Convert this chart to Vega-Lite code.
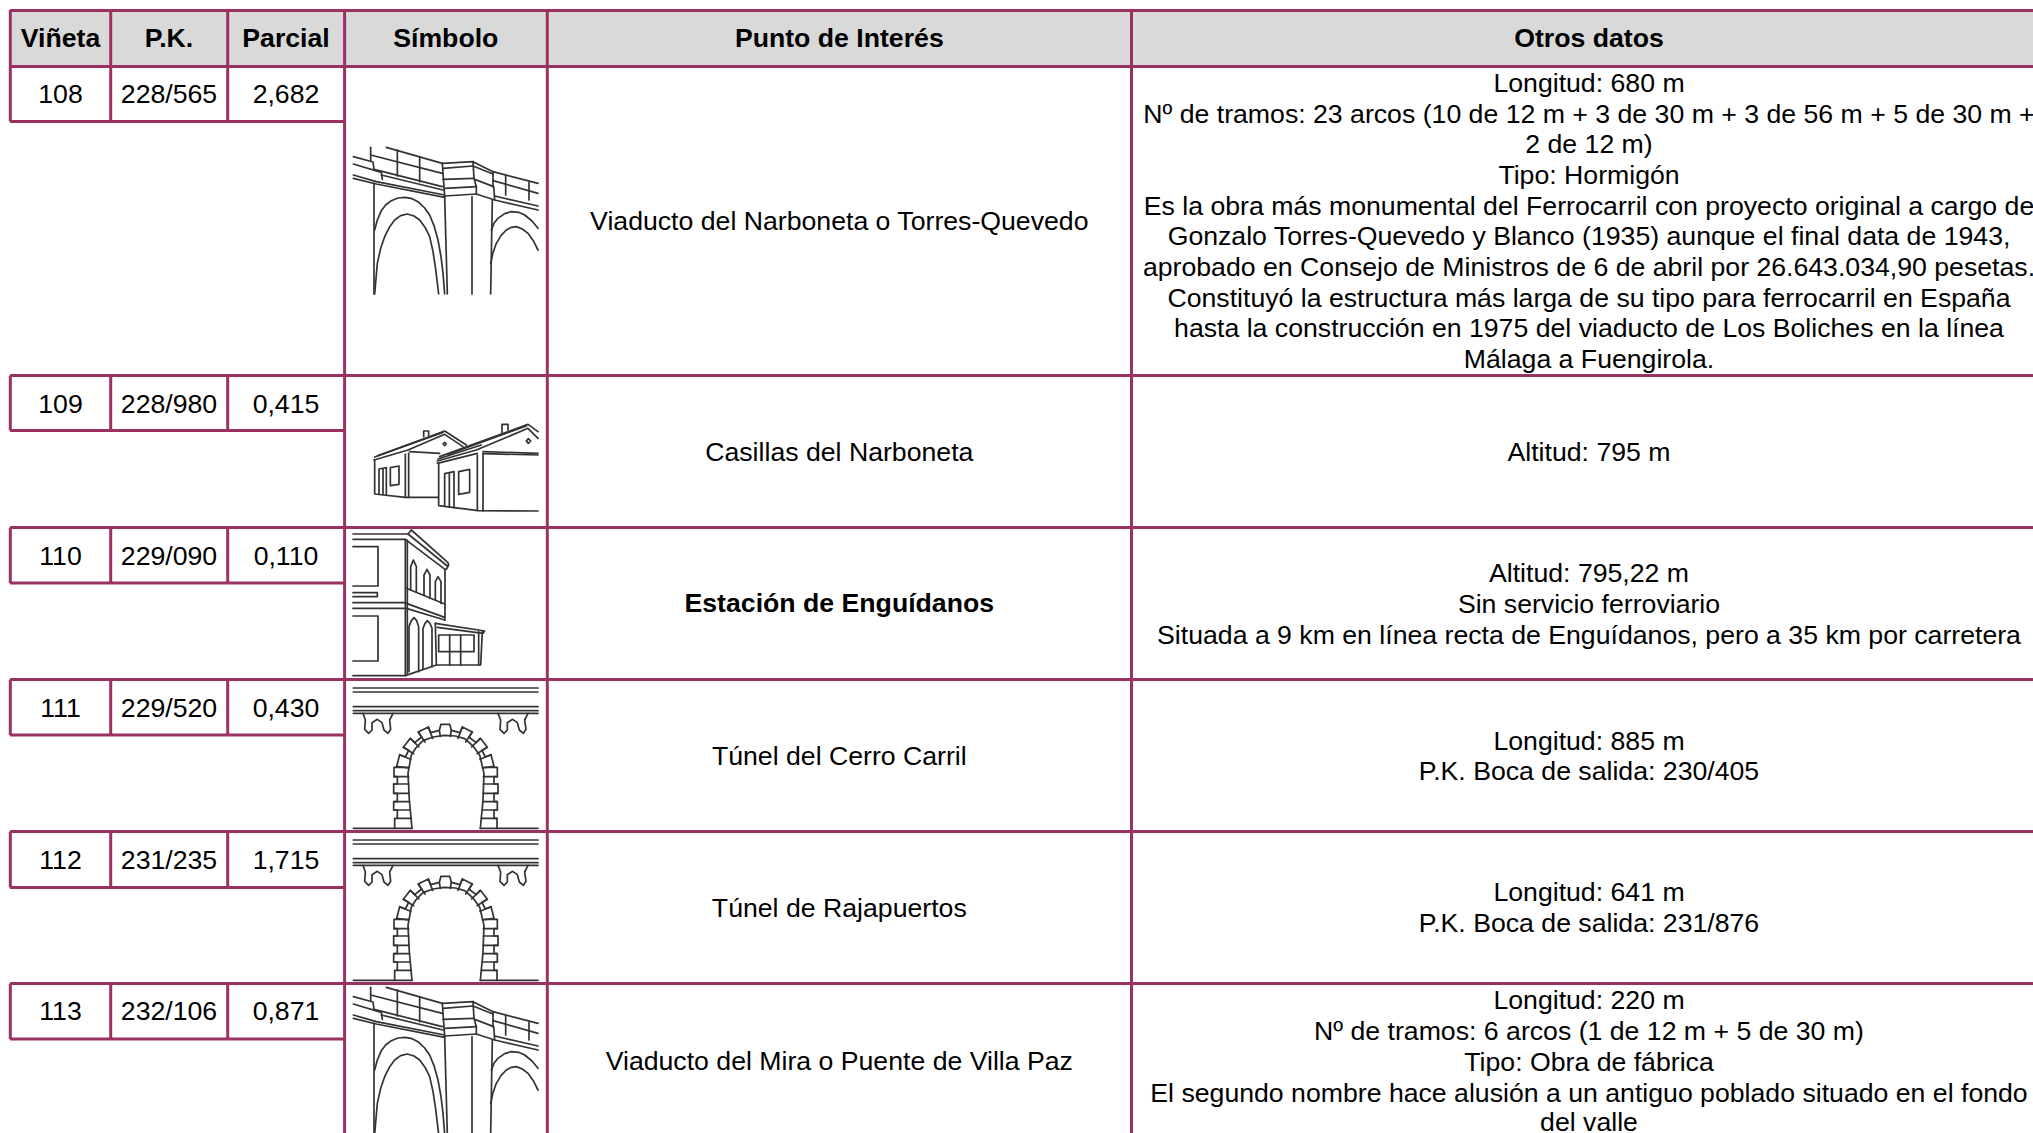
{
"$schema":"https://vega.github.io/schema/vega-lite/v6.json",
"width":2033,"height":1133,"padding":0,"autosize":{"type":"fit","contains":"padding"},
"background":"white","config":{"view":{"stroke":null}},
"resolve":{"scale":{"x":"independent","y":"independent"}},
"datasets":{
"header":[{"x":10,"x2":2033,"y":10,"y2":66}],
"grid":[
{"x":10,"x2":2033,"y":10.5,"y2":10.5},{"x":10,"x2":2033,"y":66.5,"y2":66.5},{"x":10,"x2":2033,"y":375.5,"y2":375.5},{"x":10,"x2":2033,"y":527.5,"y2":527.5},{"x":10,"x2":2033,"y":679.5,"y2":679.5},{"x":10,"x2":2033,"y":831.5,"y2":831.5},{"x":10,"x2":2033,"y":983.5,"y2":983.5},
{"x":10,"x2":344.6,"y":121.5,"y2":121.5},{"x":10,"x2":344.6,"y":430.5,"y2":430.5},{"x":10,"x2":344.6,"y":583,"y2":583},{"x":10,"x2":344.6,"y":735,"y2":735},{"x":10,"x2":344.6,"y":887.5,"y2":887.5},{"x":10,"x2":344.6,"y":1039,"y2":1039},
{"x":344.6,"x2":344.6,"y":10,"y2":1133},{"x":547.3,"x2":547.3,"y":10,"y2":1133},{"x":1131.5,"x2":1131.5,"y":10,"y2":1133},
{"x":10.3,"x2":10.3,"y":10,"y2":121.5},{"x":110.7,"x2":110.7,"y":10,"y2":121.5},{"x":227.7,"x2":227.7,"y":10,"y2":121.5},
{"x":10.3,"x2":10.3,"y":375.5,"y2":430.5},{"x":110.7,"x2":110.7,"y":375.5,"y2":430.5},{"x":227.7,"x2":227.7,"y":375.5,"y2":430.5},
{"x":10.3,"x2":10.3,"y":527.5,"y2":583},{"x":110.7,"x2":110.7,"y":527.5,"y2":583},{"x":227.7,"x2":227.7,"y":527.5,"y2":583},
{"x":10.3,"x2":10.3,"y":679.5,"y2":735},{"x":110.7,"x2":110.7,"y":679.5,"y2":735},{"x":227.7,"x2":227.7,"y":679.5,"y2":735},
{"x":10.3,"x2":10.3,"y":831.5,"y2":887.5},{"x":110.7,"x2":110.7,"y":831.5,"y2":887.5},{"x":227.7,"x2":227.7,"y":831.5,"y2":887.5},
{"x":10.3,"x2":10.3,"y":983.5,"y2":1039},{"x":110.7,"x2":110.7,"y":983.5,"y2":1039},{"x":227.7,"x2":227.7,"y":983.5,"y2":1039}
],
"bold":[
{"x":60.5,"y":38,"t":"Viñeta"},{"x":169,"y":38,"t":"P.K."},{"x":286,"y":38,"t":"Parcial"},{"x":445.8,"y":38,"t":"Símbolo"},{"x":839.3,"y":38,"t":"Punto de Interés"},{"x":1589,"y":38,"t":"Otros datos"},{"x":839.3,"y":603,"t":"Estación de Enguídanos"}
],
"plain":[
{"x":60.5,"y":94,"t":"108"},{"x":169,"y":94,"t":"228/565"},{"x":286,"y":94,"t":"2,682"},
{"x":60.5,"y":403.5,"t":"109"},{"x":169,"y":403.5,"t":"228/980"},{"x":286,"y":403.5,"t":"0,415"},
{"x":60.5,"y":555.5,"t":"110"},{"x":169,"y":555.5,"t":"229/090"},{"x":286,"y":555.5,"t":"0,110"},
{"x":60.5,"y":707.5,"t":"111"},{"x":169,"y":707.5,"t":"229/520"},{"x":286,"y":707.5,"t":"0,430"},
{"x":60.5,"y":859.5,"t":"112"},{"x":169,"y":859.5,"t":"231/235"},{"x":286,"y":859.5,"t":"1,715"},
{"x":60.5,"y":1011,"t":"113"},{"x":169,"y":1011,"t":"232/106"},{"x":286,"y":1011,"t":"0,871"},
{"x":839.3,"y":221,"t":"Viaducto del Narboneta o Torres-Quevedo"},
{"x":839.3,"y":451.5,"t":"Casillas del Narboneta"},
{"x":839.3,"y":755.5,"t":"Túnel del Cerro Carril"},
{"x":839.3,"y":907.5,"t":"Túnel de Rajapuertos"},
{"x":839.3,"y":1061,"t":"Viaducto del Mira o Puente de Villa Paz"},
{"x":1589,"y":83,"t":"Longitud: 680 m"},
{"x":1589,"y":113.7,"t":"Nº de tramos: 23 arcos (10 de 12 m + 3 de 30 m + 3 de 56 m + 5 de 30 m +"},
{"x":1589,"y":144.3,"t":"2 de 12 m)"},
{"x":1589,"y":175,"t":"Tipo: Hormigón"},
{"x":1589,"y":205.7,"t":"Es la obra más monumental del Ferrocarril con proyecto original a cargo de"},
{"x":1589,"y":236.4,"t":"Gonzalo Torres-Quevedo y Blanco (1935) aunque el final data de 1943,"},
{"x":1589,"y":267,"t":"aprobado en Consejo de Ministros de 6 de abril por 26.643.034,90 pesetas."},
{"x":1589,"y":297.7,"t":"Constituyó la estructura más larga de su tipo para ferrocarril en España"},
{"x":1589,"y":328.4,"t":"hasta la construcción en 1975 del viaducto de Los Boliches en la línea"},
{"x":1589,"y":359,"t":"Málaga a Fuengirola."},
{"x":1589,"y":451.5,"t":"Altitud: 795 m"},
{"x":1589,"y":573,"t":"Altitud: 795,22 m"},
{"x":1589,"y":603.8,"t":"Sin servicio ferroviario"},
{"x":1589,"y":634.6,"t":"Situada a 9 km en línea recta de Enguídanos, pero a 35 km por carretera"},
{"x":1589,"y":741,"t":"Longitud: 885 m"},
{"x":1589,"y":771,"t":"P.K. Boca de salida: 230/405"},
{"x":1589,"y":892.2,"t":"Longitud: 641 m"},
{"x":1589,"y":923,"t":"P.K. Boca de salida: 231/876"},
{"x":1589,"y":1000.4,"t":"Longitud: 220 m"},
{"x":1589,"y":1031,"t":"Nº de tramos: 6 arcos (1 de 12 m + 5 de 30 m)"},
{"x":1589,"y":1062,"t":"Tipo: Obra de fábrica"},
{"x":1589,"y":1092.7,"t":"El segundo nombre hace alusión a un antiguo poblado situado en el fondo"},
{"x":1589,"y":1121.5,"t":"del valle"}
],
"viaduct":[
{"p":1,"x":115,"y":22},{"p":1,"x":283,"y":70},
{"p":2,"x":68,"y":45},{"p":2,"x":283,"y":100},
{"p":3,"x":68,"y":22},{"p":3,"x":68,"y":62},
{"p":4,"x":148,"y":30},{"p":4,"x":148,"y":108},
{"p":5,"x":215,"y":50},{"p":5,"x":215,"y":125},
{"p":6,"x":16,"y":50},{"p":6,"x":75,"y":66},{"p":6,"x":78,"y":88},{"p":6,"x":283,"y":140},
{"p":7,"x":16,"y":72},{"p":7,"x":100,"y":97},{"p":7,"x":103,"y":118},
{"p":8,"x":16,"y":105},{"p":8,"x":85,"y":125},{"p":8,"x":290,"y":165},
{"p":9,"x":16,"y":115},{"p":9,"x":85,"y":132},{"p":9,"x":290,"y":172},
{"p":10,"x":100,"y":105},{"p":10,"x":285,"y":150},
{"p":11,"x":283,"y":70},{"p":11,"x":290,"y":170},
{"p":12,"x":283,"y":70},{"p":12,"x":375,"y":65},{"p":12,"x":378,"y":115},{"p":12,"x":385,"y":140},{"p":12,"x":385,"y":162},
{"p":13,"x":285,"y":85},{"p":13,"x":375,"y":78},
{"p":14,"x":285,"y":118},{"p":14,"x":378,"y":115},
{"p":15,"x":290,"y":145},{"p":15,"x":385,"y":140},
{"p":16,"x":290,"y":168},{"p":16,"x":385,"y":162},
{"p":17,"x":375,"y":65},{"p":17,"x":435,"y":95},{"p":17,"x":570,"y":130},
{"p":18,"x":375,"y":78},{"p":18,"x":435,"y":102},
{"p":19,"x":435,"y":122},{"p":19,"x":570,"y":160},
{"p":20,"x":380,"y":118},{"p":20,"x":437,"y":140},{"p":20,"x":440,"y":178},
{"p":21,"x":385,"y":162},{"p":21,"x":440,"y":180},{"p":21,"x":570,"y":210},
{"p":22,"x":440,"y":168},{"p":22,"x":570,"y":198},
{"p":23,"x":435,"y":97},{"p":23,"x":435,"y":140},
{"p":24,"x":473,"y":105},{"p":24,"x":473,"y":165},
{"p":25,"x":543,"y":125},{"p":25,"x":543,"y":180},
{"p":26,"x":78,"y":130},{"p":26,"x":78,"y":462},
{"p":27,"x":290,"y":170},{"p":27,"x":298,"y":462},
{"p":28,"x":372,"y":170},{"p":28,"x":372,"y":462},
{"p":29,"x":433,"y":180},{"p":29,"x":428,"y":462},
{"p":30,"x":80,"y":270},{"p":30,"x":88,"y":240},{"p":30,"x":100,"y":212},{"p":30,"x":113,"y":195},{"p":30,"x":130,"y":182},{"p":30,"x":150,"y":174},{"p":30,"x":172,"y":172},{"p":30,"x":192,"y":176},{"p":30,"x":210,"y":185},{"p":30,"x":230,"y":204},{"p":30,"x":245,"y":225},{"p":30,"x":259,"y":260},{"p":30,"x":270,"y":300},{"p":30,"x":279,"y":350},{"p":30,"x":285,"y":400},{"p":30,"x":290,"y":462},
{"p":31,"x":80,"y":462},{"p":31,"x":88,"y":370},{"p":31,"x":98,"y":325},{"p":31,"x":110,"y":290},{"p":31,"x":124,"y":262},{"p":31,"x":140,"y":240},{"p":31,"x":158,"y":227},{"p":31,"x":178,"y":222},{"p":31,"x":198,"y":228},{"p":31,"x":215,"y":240},{"p":31,"x":232,"y":263},{"p":31,"x":245,"y":290},{"p":31,"x":255,"y":335},{"p":31,"x":262,"y":380},{"p":31,"x":272,"y":462},
{"p":32,"x":430,"y":270},{"p":32,"x":438,"y":250},{"p":32,"x":450,"y":235},{"p":32,"x":470,"y":221},{"p":32,"x":490,"y":215},{"p":32,"x":512,"y":217},{"p":32,"x":530,"y":225},{"p":32,"x":552,"y":243},{"p":32,"x":570,"y":265},
{"p":33,"x":428,"y":370},{"p":33,"x":435,"y":338},{"p":33,"x":445,"y":310},{"p":33,"x":459,"y":287},{"p":33,"x":475,"y":270},{"p":33,"x":490,"y":262},{"p":33,"x":505,"y":260},{"p":33,"x":523,"y":267},{"p":33,"x":540,"y":280},{"p":33,"x":557,"y":304},{"p":33,"x":570,"y":330}
],
"tunnel":[
{"p":1,"x":16,"y":24},{"p":1,"x":570,"y":24},
{"p":2,"x":16,"y":36},{"p":2,"x":570,"y":36},
{"p":3,"x":16,"y":80},{"p":3,"x":570,"y":80},
{"p":4,"x":16,"y":92},{"p":4,"x":570,"y":92},
{"p":5,"x":16,"y":100},{"p":5,"x":570,"y":100},
{"p":6,"x":45,"y":100},{"p":6,"x":52,"y":120},{"p":6,"x":50,"y":148},{"p":6,"x":62,"y":160},{"p":6,"x":72,"y":150},{"p":6,"x":72,"y":128},{"p":6,"x":88,"y":118},{"p":6,"x":102,"y":128},{"p":6,"x":108,"y":150},{"p":6,"x":120,"y":160},{"p":6,"x":128,"y":148},{"p":6,"x":125,"y":120},{"p":6,"x":135,"y":100},
{"p":7,"x":450,"y":100},{"p":7,"x":458,"y":120},{"p":7,"x":456,"y":148},{"p":7,"x":468,"y":160},{"p":7,"x":478,"y":150},{"p":7,"x":478,"y":128},{"p":7,"x":494,"y":118},{"p":7,"x":508,"y":128},{"p":7,"x":514,"y":150},{"p":7,"x":526,"y":160},{"p":7,"x":534,"y":148},{"p":7,"x":530,"y":120},{"p":7,"x":540,"y":100},
{"p":8,"x":192,"y":445},{"p":8,"x":184,"y":360},{"p":8,"x":180,"y":280},{"p":8,"x":190,"y":225},{"p":8,"x":205,"y":202},{"p":8,"x":225,"y":182},{"p":8,"x":255,"y":171},{"p":8,"x":290,"y":166},{"p":8,"x":322,"y":168},{"p":8,"x":350,"y":176},{"p":8,"x":375,"y":198},{"p":8,"x":395,"y":225},{"p":8,"x":408,"y":280},{"p":8,"x":405,"y":360},{"p":8,"x":397,"y":445},
{"p":9,"x":146,"y":259},{"p":9,"x":155,"y":224},{"p":9,"x":172,"y":231},{"p":9,"x":182,"y":211},{"p":9,"x":166,"y":202},{"p":9,"x":187,"y":175},{"p":9,"x":200,"y":188},{"p":9,"x":221,"y":171},{"p":9,"x":211,"y":156},{"p":9,"x":241,"y":141},{"p":9,"x":248,"y":158},{"p":9,"x":274,"y":151},{"p":9,"x":279,"y":133},{"p":9,"x":305,"y":133},{"p":9,"x":310,"y":151},{"p":9,"x":336,"y":158},{"p":9,"x":343,"y":141},{"p":9,"x":373,"y":156},{"p":9,"x":363,"y":171},{"p":9,"x":384,"y":188},{"p":9,"x":397,"y":175},{"p":9,"x":418,"y":202},{"p":9,"x":402,"y":211},{"p":9,"x":412,"y":231},{"p":9,"x":429,"y":224},{"p":9,"x":438,"y":259},
{"p":10,"x":277,"y":169},{"p":10,"x":274,"y":151},
{"p":11,"x":254,"y":175},{"p":11,"x":241,"y":141},
{"p":12,"x":231,"y":186},{"p":12,"x":211,"y":156},
{"p":13,"x":213,"y":201},{"p":13,"x":187,"y":175},
{"p":14,"x":197,"y":221},{"p":14,"x":166,"y":202},
{"p":15,"x":188,"y":238},{"p":15,"x":155,"y":224},
{"p":16,"x":181,"y":264},{"p":16,"x":146,"y":259},
{"p":17,"x":307,"y":169},{"p":17,"x":310,"y":151},
{"p":18,"x":330,"y":175},{"p":18,"x":343,"y":141},
{"p":19,"x":353,"y":186},{"p":19,"x":373,"y":156},
{"p":20,"x":371,"y":201},{"p":20,"x":397,"y":175},
{"p":21,"x":387,"y":221},{"p":21,"x":418,"y":202},
{"p":22,"x":396,"y":238},{"p":22,"x":429,"y":224},
{"p":23,"x":403,"y":264},{"p":23,"x":438,"y":259},
{"p":24,"x":180,"y":262},{"p":24,"x":138,"y":262},{"p":24,"x":138,"y":290},{"p":24,"x":148,"y":290},{"p":24,"x":148,"y":312},{"p":24,"x":137,"y":312},{"p":24,"x":137,"y":340},{"p":24,"x":148,"y":340},{"p":24,"x":148,"y":365},{"p":24,"x":137,"y":365},{"p":24,"x":137,"y":390},{"p":24,"x":148,"y":390},{"p":24,"x":148,"y":415},{"p":24,"x":140,"y":415},{"p":24,"x":140,"y":445},{"p":24,"x":192,"y":445},
{"p":25,"x":138,"y":290},{"p":25,"x":182,"y":290},
{"p":26,"x":137,"y":312},{"p":26,"x":182,"y":312},
{"p":27,"x":137,"y":340},{"p":27,"x":183,"y":340},
{"p":28,"x":137,"y":365},{"p":28,"x":184,"y":365},
{"p":29,"x":137,"y":390},{"p":29,"x":186,"y":390},
{"p":30,"x":148,"y":415},{"p":30,"x":190,"y":415},
{"p":31,"x":408,"y":262},{"p":31,"x":448,"y":262},{"p":31,"x":448,"y":290},{"p":31,"x":438,"y":290},{"p":31,"x":438,"y":312},{"p":31,"x":450,"y":312},{"p":31,"x":450,"y":340},{"p":31,"x":438,"y":340},{"p":31,"x":438,"y":365},{"p":31,"x":448,"y":365},{"p":31,"x":448,"y":390},{"p":31,"x":438,"y":390},{"p":31,"x":438,"y":415},{"p":31,"x":447,"y":415},{"p":31,"x":447,"y":445},{"p":31,"x":397,"y":445},
{"p":32,"x":406,"y":290},{"p":32,"x":448,"y":290},
{"p":33,"x":406,"y":312},{"p":33,"x":450,"y":312},
{"p":34,"x":405,"y":340},{"p":34,"x":450,"y":340},
{"p":35,"x":405,"y":365},{"p":35,"x":448,"y":365},
{"p":36,"x":403,"y":390},{"p":36,"x":448,"y":390},
{"p":37,"x":400,"y":415},{"p":37,"x":447,"y":415},
{"p":38,"x":16,"y":445},{"p":38,"x":140,"y":445},
{"p":39,"x":447,"y":445},{"p":39,"x":570,"y":445}
],
"houses":[
{"p":1,"x":80,"y":186},{"p":1,"x":290,"y":108},{"p":1,"x":355,"y":150},
{"p":2,"x":78,"y":195},{"p":2,"x":180,"y":165},{"p":2,"x":290,"y":118},{"p":2,"x":345,"y":155},
{"p":3,"x":90,"y":182},{"p":3,"x":285,"y":112},
{"p":4,"x":185,"y":170},{"p":4,"x":275,"y":175},
{"p":5,"x":227,"y":125},{"p":5,"x":227,"y":108},{"p":5,"x":242,"y":108},{"p":5,"x":242,"y":122},
{"p":6,"x":285,"y":147},{"p":6,"x":290,"y":142},{"p":6,"x":295,"y":147},{"p":6,"x":290,"y":152},{"p":6,"x":285,"y":147},
{"p":7,"x":80,"y":195},{"p":7,"x":80,"y":297},{"p":7,"x":172,"y":307},{"p":7,"x":270,"y":307},
{"p":8,"x":172,"y":178},{"p":8,"x":172,"y":307},
{"p":9,"x":182,"y":175},{"p":9,"x":182,"y":307},
{"p":10,"x":93,"y":297},{"p":10,"x":93,"y":222},{"p":10,"x":115,"y":218},{"p":10,"x":115,"y":300},
{"p":11,"x":105,"y":222},{"p":11,"x":105,"y":298},
{"p":12,"x":127,"y":218},{"p":12,"x":153,"y":213},{"p":12,"x":153,"y":268},{"p":12,"x":127,"y":272},{"p":12,"x":127,"y":218},
{"p":13,"x":275,"y":185},{"p":13,"x":540,"y":88},{"p":13,"x":570,"y":110},
{"p":14,"x":268,"y":198},{"p":14,"x":385,"y":165},{"p":14,"x":540,"y":100},{"p":14,"x":570,"y":130},
{"p":15,"x":270,"y":192},{"p":15,"x":400,"y":150},
{"p":16,"x":268,"y":205},{"p":16,"x":388,"y":175},
{"p":17,"x":300,"y":178},{"p":17,"x":535,"y":93},
{"p":18,"x":272,"y":205},{"p":18,"x":272,"y":332},{"p":18,"x":390,"y":347},{"p":18,"x":570,"y":348},
{"p":19,"x":388,"y":180},{"p":19,"x":388,"y":345},
{"p":20,"x":405,"y":175},{"p":20,"x":405,"y":348},
{"p":21,"x":290,"y":332},{"p":21,"x":290,"y":236},{"p":21,"x":318,"y":230},{"p":21,"x":318,"y":338},
{"p":22,"x":304,"y":236},{"p":22,"x":304,"y":335},
{"p":23,"x":332,"y":230},{"p":23,"x":365,"y":223},{"p":23,"x":365,"y":292},{"p":23,"x":332,"y":298},{"p":23,"x":332,"y":230},
{"p":24,"x":462,"y":112},{"p":24,"x":462,"y":88},{"p":24,"x":480,"y":88},{"p":24,"x":480,"y":105},
{"p":25,"x":535,"y":138},{"p":25,"x":541,"y":131},{"p":25,"x":548,"y":138},{"p":25,"x":541,"y":145},{"p":25,"x":535,"y":138},
{"p":26,"x":405,"y":170},{"p":26,"x":570,"y":175},
{"p":27,"x":405,"y":176},{"p":27,"x":570,"y":180}
],
"station":[
{"p":1,"x":15,"y":12},{"p":1,"x":180,"y":12},{"p":1,"x":190,"y":0},{"p":1,"x":300,"y":98},{"p":1,"x":302,"y":105},{"p":1,"x":295,"y":118},
{"p":2,"x":15,"y":28},{"p":2,"x":172,"y":28},{"p":2,"x":291,"y":118},
{"p":3,"x":180,"y":12},{"p":3,"x":298,"y":108},
{"p":4,"x":172,"y":28},{"p":4,"x":172,"y":437},
{"p":5,"x":178,"y":30},{"p":5,"x":178,"y":430},
{"p":6,"x":291,"y":118},{"p":6,"x":291,"y":270},
{"p":7,"x":15,"y":50},{"p":7,"x":90,"y":50},{"p":7,"x":90,"y":168},{"p":7,"x":15,"y":168},
{"p":8,"x":15,"y":188},{"p":8,"x":88,"y":188},{"p":8,"x":88,"y":200},{"p":8,"x":15,"y":200},
{"p":9,"x":15,"y":258},{"p":9,"x":90,"y":258},{"p":9,"x":90,"y":393},{"p":9,"x":15,"y":393},
{"p":10,"x":15,"y":218},{"p":10,"x":170,"y":218},
{"p":11,"x":15,"y":235},{"p":11,"x":170,"y":235},
{"p":12,"x":15,"y":437},{"p":12,"x":172,"y":437},{"p":12,"x":265,"y":405},
{"p":13,"x":188,"y":180},{"p":13,"x":188,"y":110},{"p":13,"x":196,"y":90},{"p":13,"x":205,"y":110},{"p":13,"x":205,"y":185},
{"p":14,"x":228,"y":195},{"p":14,"x":228,"y":135},{"p":14,"x":237,"y":118},{"p":14,"x":246,"y":135},{"p":14,"x":246,"y":205},
{"p":15,"x":262,"y":210},{"p":15,"x":262,"y":155},{"p":15,"x":270,"y":140},{"p":15,"x":279,"y":155},{"p":15,"x":279,"y":220},
{"p":16,"x":175,"y":175},{"p":16,"x":290,"y":222},
{"p":17,"x":175,"y":220},{"p":17,"x":290,"y":262},
{"p":18,"x":175,"y":235},{"p":18,"x":290,"y":270},
{"p":19,"x":183,"y":425},{"p":19,"x":183,"y":290},{"p":19,"x":190,"y":272},{"p":19,"x":198,"y":263},{"p":19,"x":206,"y":272},{"p":19,"x":212,"y":290},{"p":19,"x":212,"y":425},
{"p":20,"x":225,"y":415},{"p":20,"x":225,"y":295},{"p":20,"x":231,"y":280},{"p":20,"x":238,"y":272},{"p":20,"x":246,"y":280},{"p":20,"x":252,"y":295},{"p":20,"x":252,"y":410},
{"p":21,"x":262,"y":280},{"p":21,"x":410,"y":303},{"p":21,"x":405,"y":310},{"p":21,"x":268,"y":292},
{"p":22,"x":262,"y":280},{"p":22,"x":265,"y":405},{"p":22,"x":392,"y":405},{"p":22,"x":392,"y":305},
{"p":23,"x":403,"y":305},{"p":23,"x":398,"y":405},{"p":23,"x":392,"y":405},
{"p":24,"x":272,"y":315},{"p":24,"x":378,"y":315},{"p":24,"x":378,"y":365},{"p":24,"x":272,"y":365},{"p":24,"x":272,"y":315},
{"p":25,"x":305,"y":315},{"p":25,"x":305,"y":405},
{"p":26,"x":338,"y":315},{"p":26,"x":338,"y":405}
]
},
"layer":[
{"data":{"name":"header"},"mark":{"type":"rect","fill":"#d9d9d9","clip":true},
 "encoding":{"x":{"field":"x","type":"quantitative","axis":null,"scale":{"domain":[0,2033],"nice":false,"zero":false}},"x2":{"field":"x2"},"y":{"field":"y","type":"quantitative","axis":null,"scale":{"domain":[1133,0],"nice":false,"zero":false}},"y2":{"field":"y2"}}},
{"data":{"name":"plain"},"mark":{"type":"text","clip":true,"font":"Liberation Sans","fontSize":26.67,"color":"#000000","align":"center","baseline":"middle"},
 "encoding":{"x":{"field":"x","type":"quantitative","axis":null,"scale":{"domain":[0,2033],"nice":false,"zero":false}},"y":{"field":"y","type":"quantitative","axis":null,"scale":{"domain":[1132,-1],"nice":false,"zero":false}},"text":{"field":"t","type":"nominal"}}},
{"data":{"name":"bold"},"mark":{"type":"text","clip":true,"font":"Liberation Sans","fontSize":26.67,"fontWeight":"bold","color":"#000000","align":"center","baseline":"middle"},
 "encoding":{"x":{"field":"x","type":"quantitative","axis":null,"scale":{"domain":[0,2033],"nice":false,"zero":false}},"y":{"field":"y","type":"quantitative","axis":null,"scale":{"domain":[1132,-1],"nice":false,"zero":false}},"text":{"field":"t","type":"nominal"}}},
{"data":{"name":"viaduct"},"mark":{"type":"line","clip":true,"color":"#333333","strokeWidth":1.7,"strokeCap":"round","strokeJoin":"round"},
 "encoding":{"x":{"field":"x","type":"quantitative","axis":null,"scale":{"domain":[-1044,5055],"nice":false,"zero":false}},"y":{"field":"y","type":"quantitative","axis":null,"scale":{"domain":[2979,-420],"nice":false,"zero":false}},"detail":{"field":"p","type":"nominal"},"order":{"value":null}}},
{"data":{"name":"houses"},"mark":{"type":"line","clip":true,"color":"#333333","strokeWidth":1.7,"strokeCap":"round","strokeJoin":"round"},
 "encoding":{"x":{"field":"x","type":"quantitative","axis":null,"scale":{"domain":[-1044,5055],"nice":false,"zero":false}},"y":{"field":"y","type":"quantitative","axis":null,"scale":{"domain":[2214,-1185],"nice":false,"zero":false}},"detail":{"field":"p","type":"nominal"},"order":{"value":null}}},
{"data":{"name":"station"},"mark":{"type":"line","clip":true,"color":"#333333","strokeWidth":1.7,"strokeCap":"round","strokeJoin":"round"},
 "encoding":{"x":{"field":"x","type":"quantitative","axis":null,"scale":{"domain":[-1044,5055],"nice":false,"zero":false}},"y":{"field":"y","type":"quantitative","axis":null,"scale":{"domain":[1809,-1590],"nice":false,"zero":false}},"detail":{"field":"p","type":"nominal"},"order":{"value":null}}},
{"data":{"name":"tunnel"},"mark":{"type":"line","clip":true,"color":"#333333","strokeWidth":1.7,"strokeCap":"round","strokeJoin":"round"},
 "encoding":{"x":{"field":"x","type":"quantitative","axis":null,"scale":{"domain":[-1044,5055],"nice":false,"zero":false}},"y":{"field":"y","type":"quantitative","axis":null,"scale":{"domain":[1359,-2040],"nice":false,"zero":false}},"detail":{"field":"p","type":"nominal"},"order":{"value":null}}},
{"data":{"name":"tunnel"},"mark":{"type":"line","clip":true,"color":"#333333","strokeWidth":1.7,"strokeCap":"round","strokeJoin":"round"},
 "encoding":{"x":{"field":"x","type":"quantitative","axis":null,"scale":{"domain":[-1044,5055],"nice":false,"zero":false}},"y":{"field":"y","type":"quantitative","axis":null,"scale":{"domain":[903,-2496],"nice":false,"zero":false}},"detail":{"field":"p","type":"nominal"},"order":{"value":null}}},
{"data":{"name":"viaduct"},"mark":{"type":"line","clip":true,"color":"#333333","strokeWidth":1.7,"strokeCap":"round","strokeJoin":"round"},
 "encoding":{"x":{"field":"x","type":"quantitative","axis":null,"scale":{"domain":[-1044,5055],"nice":false,"zero":false}},"y":{"field":"y","type":"quantitative","axis":null,"scale":{"domain":[459,-2940],"nice":false,"zero":false}},"detail":{"field":"p","type":"nominal"},"order":{"value":null}}},
{"data":{"name":"grid"},"mark":{"type":"rule","clip":true,"color":"#9b3162","strokeWidth":3},
 "encoding":{"x":{"field":"x","type":"quantitative","axis":null,"scale":{"domain":[0,2033],"nice":false,"zero":false}},"x2":{"field":"x2"},"y":{"field":"y","type":"quantitative","axis":null,"scale":{"domain":[1133,0],"nice":false,"zero":false}},"y2":{"field":"y2"}}}
]
}
